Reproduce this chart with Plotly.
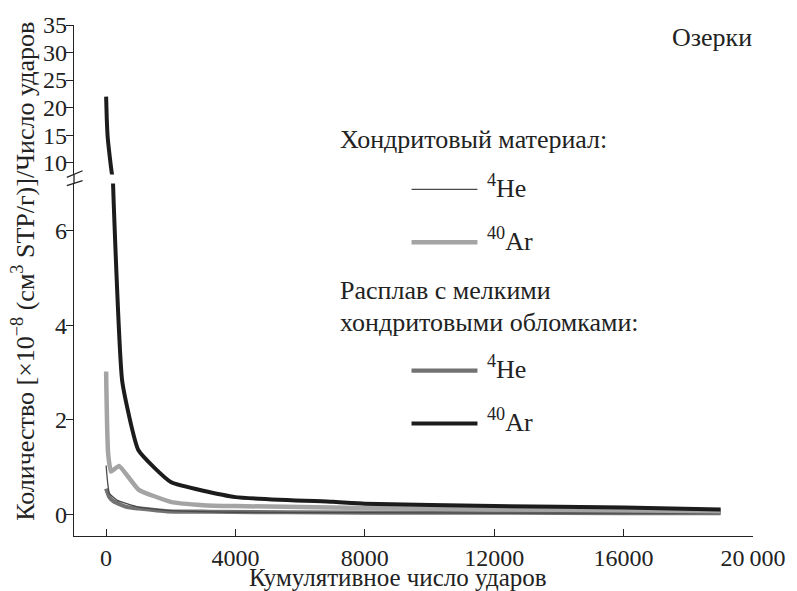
import plotly.graph_objects as go

# ---------------- data ----------------
hits_ch_he = [0, 50, 100, 350, 1000, 1900, 4000, 8000, 12000, 16000, 19000]
ch_he = [1.03, 0.65, 0.44, 0.29, 0.15, 0.08, 0.04, 0.03, 0.02, 0.02, 0.02]

hits_ch_ar = [0, 10, 30, 60, 150, 400, 1000, 2000, 3000, 4000, 8000, 12000, 16000, 19000]
ch_ar = [3.02, 2.6, 1.9, 1.3, 0.9, 1.02, 0.52, 0.26, 0.19, 0.17, 0.13, 0.1, 0.08, 0.06]

hits_m_he = [0, 100, 250, 650, 1000, 1900, 3200, 8000, 12000, 16000, 19000]
m_he = [0.54, 0.36, 0.26, 0.15, 0.12, 0.06, 0.05, 0.03, 0.03, 0.02, 0.02]

hits_m_ar = [0, 20, 50, 200, 500, 1000, 2000, 4000, 7000, 8000, 12000, 16000, 19000]
m_ar = [22.0, 18.0, 14.5, 7.3, 2.8, 1.35, 0.68, 0.36, 0.26, 0.22, 0.17, 0.14, 0.1]

x_ticks = [0, 4000, 8000, 12000, 16000, 20000]
x_ticklabels = ["0", "4000", "8000", "12000", "16000", "20\u2009000"]
y_low_ticks = [0, 2, 4, 6]
y_high_ticks = [10, 15, 20, 25, 30, 35]

# ---------------- layout geometry (pixels) ----------------
W, H = 797, 591
PL, PR, PT, PB = 74, 764, 23, 536


def fx(px):
    return (px - PL) / (PR - PL)


def fy(py):
    return (PB - py) / (PB - PT)


FONT = "Liberation Serif, Times New Roman, serif"
FS_TICK = 24
FS_TEXT = 26
FS_TITLE = 25
TXT = "#222222"

C_THIN = "#4a4a4a"
C_LIGHT = "#a4a4a4"
C_MED = "#727272"
C_BLACK = "#1c1c1c"

fig = go.Figure()

series = [
    (hits_m_he, m_he, C_MED, 4.2),
    (hits_ch_he, ch_he, C_THIN, 1.3),
    (hits_ch_ar, ch_ar, C_LIGHT, 4.5),
    (hits_m_ar, m_ar, C_BLACK, 4.0),
]
for xs, ys, c, w in series:
    fig.add_trace(go.Scatter(x=xs, y=ys, mode="lines", xaxis="x", yaxis="y",
                             line=dict(color=c, width=w, shape="spline", smoothing=0.4),
                             showlegend=False, hoverinfo="skip"))
# upper (broken) part of the axis shows the high values of the melt 40Ar series
fig.add_trace(go.Scatter(x=hits_m_ar, y=m_ar, mode="lines", xaxis="x", yaxis="y2",
                         line=dict(color=C_BLACK, width=4.0, shape="spline", smoothing=0.4),
                         showlegend=False, hoverinfo="skip"))

axis_common = dict(showline=True, linecolor="#222222", linewidth=1.3, showgrid=False,
                   zeroline=False, ticks="outside", ticklen=7, tickwidth=1.3,
                   tickcolor="#222222", tickfont=dict(family=FONT, size=FS_TICK, color=TXT))

low_dom_top = fy(182)
high_dom_bot = fy(173)

fig.update_layout(
    width=W, height=H,
    margin=dict(l=PL, r=W - PR, t=PT, b=H - PB, pad=0),
    paper_bgcolor="white", plot_bgcolor="white",
    xaxis=dict(axis_common, range=[-993, 20000], tickvals=x_ticks, ticktext=x_ticklabels,
               ticks="inside", anchor="y", domain=[0, 1]),
    yaxis=dict(axis_common, range=[-0.463, 7.0], tickvals=y_low_ticks,
               domain=[0, low_dom_top], anchor="x", ticklabelstandoff=-6),
    yaxis2=dict(axis_common, range=[7.88, 35], tickvals=y_high_ticks,
                domain=[high_dom_bot, 1], anchor="x", ticklabelstandoff=-6),
    showlegend=False,
)

shapes = []
# continuous y-axis line through the break
shapes.append(dict(type="line", xref="paper", yref="paper", x0=0, x1=0, y0=fy(182), y1=fy(173),
                   line=dict(color="#222222", width=1.3)))
# break marks
for (x0, y0, x1, y1) in [(66.7, 176, 82.7, 169.3), (66.7, 184.3, 82.7, 179.3)]:
    shapes.append(dict(type="line", xref="paper", yref="paper", x0=fx(x0), y0=fy(y0),
                       x1=fx(x1), y1=fy(y1), line=dict(color="#222222", width=1.3)))

# legend samples
leg = [(188, C_THIN, 1.3), (241, C_LIGHT, 4.5), (370, C_MED, 4.2), (423, C_BLACK, 4.0)]
for py, c, w in leg:
    shapes.append(dict(type="line", xref="paper", yref="paper", x0=fx(417), x1=fx(484),
                       y0=fy(py), y1=fy(py), line=dict(color=c, width=w)))
fig.update_layout(shapes=shapes)

ann = []


def text(px, py, s, xanchor="left", size=FS_TEXT, angle=0):
    ann.append(dict(x=fx(px), y=fy(py), xref="paper", yref="paper", text=s, showarrow=False,
                    xanchor=xanchor, yanchor="middle", textangle=angle,
                    font=dict(family=FONT, size=size, color=TXT)))


text(680, 36, "Озерки", size=26)
text(342, 138, "Хондритовый материал:")
text(492, 185, "<sup>4</sup>He")
text(492, 238, "<sup>40</sup>Ar")
text(342, 290, "Расплав с мелкими")
text(342, 322, "хондритовыми обломками:")
text(492, 367, "<sup>4</sup>He")
text(492, 420, "<sup>40</sup>Ar")
text(403, 578, "Кумулятивное число ударов", xanchor="center", size=FS_TITLE)
ann.append(dict(x=fx(22), y=fy(270), xref="paper", yref="paper",
                text="Количество [×10<sup>−8</sup> (см<sup>3</sup> STP/г)]/Число ударов",
                showarrow=False, xanchor="center", yanchor="middle", textangle=-90,
                font=dict(family=FONT, size=26, color=TXT)))
fig.update_layout(annotations=ann)

fig.write_html("out.html")
